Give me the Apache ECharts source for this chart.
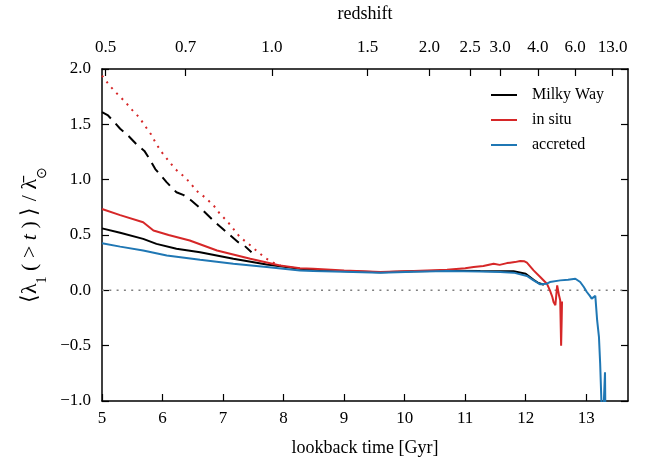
<!DOCTYPE html>
<html>
<head>
<meta charset="utf-8">
<script src="https://cdn.jsdelivr.net/npm/echarts@6/dist/echarts.min.js"></script>
<style>html,body{margin:0;padding:0;background:#fff}#c{width:646px;height:463px}</style>
</head>
<body>
<div id="c"></div>
<script>
// ---- data ----
const redshiftLabels = ['0.5','0.7','1.0','1.5','2.0','2.5','3.0','4.0','6.0','13.0'];
const redshiftTimes  = [5.06, 6.383, 7.805, 9.39, 10.41, 11.083, 11.579, 12.202, 12.818, 13.435];

const mwTime  = [5.0,5.3,5.68,5.9,6.23,6.62,7.17,7.72,8.27,8.8,9.6,10.15,10.7,11.25,11.8,12.0,12.13,12.21,12.3];
const mwValue = [0.56,0.52,0.465,0.42,0.375,0.345,0.285,0.234,0.195,0.178,0.163,0.172,0.178,0.174,0.172,0.15,0.096,0.066,0.05];

const insituTime  = [5.0,5.3,5.68,5.85,6.1,6.45,6.9,7.45,7.94,8.27,8.49,9.0,9.6,10.15,10.7,11.0,11.14,11.3,11.47,11.57,11.69,11.74,11.82,11.91,11.98,12.02,12.13,12.24,12.35,12.4,12.44,12.46,12.49,12.52,12.55,12.57,12.585,12.595,12.6];
const insituValue = [0.735,0.68,0.615,0.54,0.5,0.45,0.36,0.285,0.225,0.2,0.195,0.18,0.165,0.175,0.186,0.2,0.21,0.22,0.24,0.23,0.246,0.25,0.255,0.265,0.262,0.25,0.18,0.12,0.06,0.0,-0.06,-0.105,-0.135,0.045,-0.045,-0.09,-0.5,-0.25,-0.1];

const accretedTime  = [5.0,5.3,5.68,6.07,6.62,7.17,7.72,8.27,8.49,9.0,9.6,10.15,10.7,11.25,11.58,11.8,12.02,12.13,12.24,12.35,12.4,12.57,12.7,12.82,12.9,12.96,13.01,13.06,13.09,13.12,13.15,13.18,13.21,13.23,13.25,13.27,13.3,13.31,13.32,13.34];
const accretedValue = [0.426,0.395,0.36,0.315,0.276,0.24,0.21,0.18,0.175,0.168,0.16,0.168,0.175,0.17,0.165,0.16,0.13,0.09,0.054,0.06,0.075,0.09,0.095,0.105,0.075,0.03,-0.015,-0.05,-0.075,-0.06,-0.05,-0.27,-0.42,-0.66,-0.99,-1.3,-1.3,-0.74,-1.3,-1.5];

const mwDashTime  = [5.0,5.1,5.21,5.3,5.41,5.57,5.7,5.77,5.88,6.07,6.23,6.35,6.48,6.67,6.87,7.06,7.25,7.36,7.47];
const mwDashValue = [1.61,1.58,1.516,1.46,1.41,1.32,1.26,1.2,1.096,0.976,0.886,0.86,0.81,0.72,0.615,0.525,0.435,0.4,0.345];

const insituDotTime  = [5.0,5.13,5.26,5.38,5.5,5.62,5.71,5.81,5.9,5.99,6.1,6.21,6.34,6.45,6.56,6.7,6.84,6.95,7.06,7.17,7.28,7.42,7.56,7.69,7.83,7.95];
const insituDotValue = [1.94,1.847,1.77,1.705,1.628,1.56,1.486,1.41,1.32,1.246,1.17,1.096,1.036,0.976,0.9,0.84,0.77,0.69,0.63,0.556,0.48,0.42,0.355,0.295,0.25,0.225];

const zeroLineTime  = [5, 13.69];
const zeroLineValue = [0, 0];

const xMin = 5, xMax = 13.69, yMin = -1, yMax = 2;

// ---- build ----
const zip = (a, b) => a.map((t, i) => [t, b[i]]);
const FONT = 'Liberation Serif';
const txt = {fontFamily: FONT, fontSize: 17, color: '#000'};
const lineAx = {show: true, onZero: false, lineStyle: {color: '#000', width: 1.5}};

const chart = echarts.init(document.getElementById('c'), null, {renderer: 'canvas'});
chart.setOption({
  animation: false,
  backgroundColor: '#fff',
  grid: {left: 102, right: 18, top: 68, bottom: 62, containLabel: false},
  legend: {
    orient: 'vertical', left: 486, top: 82, itemGap: 9, itemWidth: 26, itemHeight: 2,
    icon: 'rect',
    data: ['Milky Way', 'in situ', 'accreted'],
    textStyle: {fontFamily: FONT, fontSize: 16, color: '#000', padding: [0,0,0,10]}
  },
  xAxis: [{
    type: 'value', position: 'bottom', min: xMin, max: xMax, interval: 1,
    name: 'lookback time [Gyr]', nameLocation: 'middle', nameGap: 38,
    nameTextStyle: {fontFamily: FONT, fontSize: 18, color: '#000'},
    axisLine: lineAx,
    axisTick: {inside: true, length: 7, lineStyle: {color: '#000', width: 1.2}},
    axisLabel: Object.assign({margin: 9, showMaxLabel: false, formatter: v => String(Math.round(v))}, txt),
    splitLine: {show: false}
  }, {
    type: 'value', position: 'top', min: xMin, max: xMax,
    name: 'redshift', nameLocation: 'middle', nameGap: 46,
    nameTextStyle: {fontFamily: FONT, fontSize: 18, color: '#000'},
    axisLine: lineAx,
    axisTick: {inside: true, length: 7, customValues: redshiftTimes, lineStyle: {color: '#000', width: 1.2}},
    axisLabel: Object.assign({margin: 13, customValues: redshiftTimes, formatter: v => {
      let best = 0;
      redshiftTimes.forEach((t, i) => { if (Math.abs(t - v) < Math.abs(redshiftTimes[best] - v)) best = i; });
      return redshiftLabels[best];
    }}, txt),
    splitLine: {show: false}
  }],
  yAxis: [{
    type: 'value', position: 'left', min: yMin, max: yMax, interval: 0.5,
    name: '⟨λ{s|1} ( > {i|t} ) ⟩ / λ̄{s|⊙}', nameLocation: 'middle', nameGap: 60, nameRotate: 90,
    nameTextStyle: {fontFamily: FONT, fontSize: 22, color: '#000',
      rich: {s: {fontFamily: FONT, fontSize: 14, color: '#000', verticalAlign: 'bottom', padding: [0,0,-8,0]},
             i: {fontFamily: FONT, fontSize: 22, fontStyle: 'italic', color: '#000'}}},
    axisLine: lineAx,
    axisTick: {inside: true, length: 7, lineStyle: {color: '#000', width: 1.2}},
    axisLabel: Object.assign({margin: 11, formatter: v => (v < 0 ? '\u2212' : '') + Math.abs(v).toFixed(1)}, txt),
    splitLine: {show: false}
  }, {
    type: 'value', position: 'right', min: yMin, max: yMax, interval: 0.5,
    axisLine: lineAx,
    axisTick: {inside: true, length: 7, lineStyle: {color: '#000', width: 1.2}},
    axisLabel: {show: false},
    splitLine: {show: false}
  }],
  series: [
    {
      name: 'zero', type: 'line', data: zip(zeroLineTime, zeroLineValue), silent: true,
      showSymbol: false,
      lineStyle: {color: '#808080', width: 1.5, type: [2, 5.3]}
    },
    {
      name: 'in situ (dotted)', type: 'line', data: zip(insituDotTime, insituDotValue),
      showSymbol: false, clip: true,
      lineStyle: {color: '#d62728', width: 2, type: [2, 5.5]}
    },
    {
      name: 'Milky Way (dashed)', type: 'line', data: zip(mwDashTime, mwDashValue),
      showSymbol: false, clip: true,
      lineStyle: {color: '#000', width: 2, type: [11, 7]}
    },
    {
      name: 'Milky Way', type: 'line', data: zip(mwTime, mwValue),
      showSymbol: false, clip: true, color: '#000',
      lineStyle: {color: '#000', width: 2}
    },
    {
      name: 'in situ', type: 'line', data: zip(insituTime, insituValue),
      showSymbol: false, clip: true, color: '#d62728',
      lineStyle: {color: '#d62728', width: 2}
    },
    {
      name: 'accreted', type: 'line', data: zip(accretedTime, accretedValue),
      showSymbol: false, clip: true, color: '#1f77b4',
      lineStyle: {color: '#1f77b4', width: 2}
    }
  ]
});
</script>
</body>
</html>
